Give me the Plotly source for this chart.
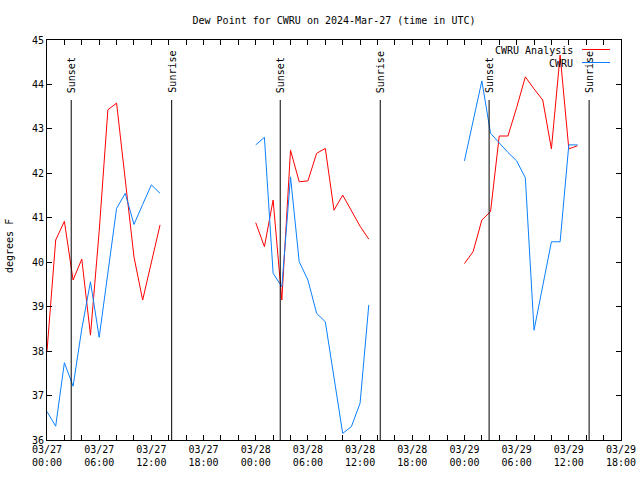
import plotly.graph_objects as go
from datetime import datetime, timedelta

# ---------------- data ----------------
days = ["2024-03-27", "2024-03-28", "2024-03-29"]
obs_hours = list(range(14))  # observations 00:00 .. 13:00 UTC each day

analysis_day1 = [38.0, 40.5, 40.92, 39.6, 40.07, 38.36, 40.7, 43.43, 43.58, 41.85, 40.12, 39.15, 40.0, 40.84]
analysis_day2 = [40.89, 40.35, 41.4, 39.15, 42.52, 41.81, 41.83, 42.45, 42.56, 41.17, 41.51, 41.15, 40.81, 40.52]
analysis_day3 = [39.97, 40.24, 40.95, 41.14, 42.84, 42.84, 43.48, 44.17, 43.9, 43.65, 42.55, 44.66, 42.55, 42.62]

cwru_day1 = [36.64, 36.31, 37.74, 37.21, 38.5, 39.56, 38.31, 39.8, 41.21, 41.55, 40.85, 41.3, 41.74, 41.55]
cwru_day2 = [42.64, 42.81, 39.75, 39.45, 41.92, 40.01, 39.6, 38.85, 38.66, 37.4, 36.15, 36.3, 36.83, 39.04]
cwru_day3 = [42.28, 43.18, 44.08, 42.9, 42.68, 42.47, 42.28, 41.9, 38.47, 39.44, 40.46, 40.46, 42.64, 42.64]

sunset_times = ["2024-03-27 02:47", "2024-03-28 02:49", "2024-03-29 02:50"]
sunrise_times = ["2024-03-27 14:20", "2024-03-28 14:19", "2024-03-29 14:20"]

series_names = ["CWRU Analysis", "CWRU"]
series_colors = ["#ff0000", "#0a80ff"]

x_range = ["2024-03-27 00:00", "2024-03-29 18:00"]
y_range = [36, 45]
title_text = "Dew Point for CWRU on 2024-Mar-27 (time in UTC)"
y_label = "degrees F"

# ------------- build series with gaps between days -------------
def build(day_values):
    xs, ys = [], []
    for day, vals in zip(days, day_values):
        base = datetime.strptime(day, "%Y-%m-%d")
        for h, v in zip(obs_hours, vals):
            xs.append(base + timedelta(hours=h))
            ys.append(v)
        xs.append(None)
        ys.append(None)
    return xs, ys

ax, ay = build([analysis_day1, analysis_day2, analysis_day3])
cx, cy = build([cwru_day1, cwru_day2, cwru_day3])

FONT = "DejaVu Sans Mono"
fig = go.Figure()
fig.add_trace(go.Scatter(x=ax, y=ay, mode="lines", name=series_names[0],
                         line=dict(color=series_colors[0], width=1), connectgaps=False))
fig.add_trace(go.Scatter(x=cx, y=cy, mode="lines", name=series_names[1],
                         line=dict(color=series_colors[1], width=1), connectgaps=False))

# sunset / sunrise markers
LINE_TOP = 43.65
for t_list, label in ((sunset_times, "Sunset"), (sunrise_times, "Sunrise")):
    for t in t_list:
        fig.add_shape(type="line", xref="x", yref="y", x0=t, x1=t, y0=y_range[0], y1=LINE_TOP,
                      line=dict(color="black", width=1))
        fig.add_annotation(x=t, y=LINE_TOP, xref="x", yref="y", text=label, textangle=-90,
                           showarrow=False, xanchor="center", yanchor="bottom", yshift=5,
                           font=dict(family=FONT, size=10, color="black"))

# manual gnuplot-style key (text then sample line); coordinates in page pixels
W, H = 574.0, 400.0
def px_x(p):
    return (p - 47) / W
def px_y(p):
    return (440 - p) / H
for i, (name, col) in enumerate(zip(series_names, series_colors)):
    yy = 50 + i * 13
    fig.add_annotation(x=px_x(575), y=px_y(yy), xref="paper", yref="paper", text=name,
                       showarrow=False, xanchor="right", yanchor="middle",
                       font=dict(family=FONT, size=10, color="black"))
    fig.add_shape(type="line", xref="paper", yref="paper", x0=px_x(582), x1=px_x(610),
                  y0=px_y(yy - 0.5), y1=px_y(yy - 0.5), line=dict(color=col, width=1))

# y axis label
fig.add_annotation(x=px_x(9), y=px_y(246), xref="paper", yref="paper", text=y_label,
                   textangle=-90, showarrow=False, xanchor="center", yanchor="middle",
                   font=dict(family=FONT, size=10, color="black"))

FIG_W, FIG_H = 640, 480
fig.update_layout(
    width=FIG_W, height=FIG_H,
    margin=dict(l=47, r=19, t=40, b=40, autoexpand=False),
    paper_bgcolor="white", plot_bgcolor="white",
    showlegend=False,
    font=dict(family=FONT, size=10, color="black"),
    title=dict(text=title_text, x=0.5, xref="paper", y=1 - 20 / FIG_H, yref="container",
               xanchor="center", yanchor="middle", font=dict(family=FONT, size=10, color="black")),
)
fig.update_xaxes(
    type="date", range=x_range, showgrid=False, zeroline=False,
    showline=True, linecolor="black", linewidth=1, mirror="allticks",
    ticks="inside", ticklen=5, tickcolor="black", tickwidth=1,
    tick0="2024-03-27 00:00", dtick=6 * 3600 * 1000, tickformat="%m/%d<br>%H:%M",
    minor=dict(dtick=2 * 3600 * 1000, tick0="2024-03-27 00:00", ticks="inside",
               ticklen=5, tickcolor="black", showgrid=False),
    tickfont=dict(family=FONT, size=10, color="black"),
)
fig.update_yaxes(
    range=y_range, showgrid=False, zeroline=False,
    showline=True, linecolor="black", linewidth=1, mirror="allticks",
    ticks="inside", ticklen=5, tickcolor="black", tickwidth=1, dtick=1,
    tickfont=dict(family=FONT, size=10, color="black"),
)

# remove the default 8px page margin so the 640x480 figure fills the window exactly
fig.write_html("out.html", config={"displayModeBar": False},
               post_script="document.body.style.margin='0';")
